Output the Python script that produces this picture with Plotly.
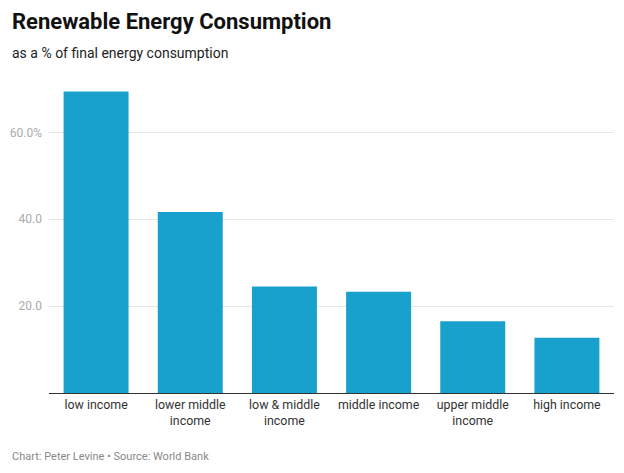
import plotly.graph_objects as go

categories = ["low income", "lower middle<br>income", "low & middle<br>income",
              "middle income", "upper middle<br>income", "high income"]
values = [69.4, 41.7, 24.5, 23.3, 16.5, 12.7]
tick_vals = [20, 40, 60]
tick_text = ["20.0", "40.0", "60.0%"]

W, H = 624, 473
L, R, T, B = 49, 10, 89, 80

fig = go.Figure(go.Bar(x=categories, y=values, marker=dict(color="#18a1cd", line=dict(width=0)),
                       hoverinfo="x+y"))

fig.update_layout(
    width=W, height=H,
    margin=dict(l=L, r=R, t=T, b=B),
    paper_bgcolor="white", plot_bgcolor="white",
    bargap=0.31,
    showlegend=False,
    font=dict(family="Roboto", color="#333333"),
)
fig.update_xaxes(showline=True, linecolor="#333333", linewidth=1.2, ticks="",
                 tickfont=dict(size=12.4, color="#333333"), showgrid=False, fixedrange=True)
fig.update_yaxes(range=[0, 70], tickvals=tick_vals, ticktext=tick_text,
                 showgrid=True, gridcolor="#e6e6e6", gridwidth=1, zeroline=False,
                 tickfont=dict(size=12, color="#aaaaaa"), ticks="", ticklabelstandoff=6,
                 fixedrange=True)


def px_x(x):
    return (x - L) / (W - L - R)


def px_y(y):
    return (H - y - B) / (H - T - B)


fig.add_annotation(text="<b>Renewable Energy Consumption</b>", x=px_x(10), y=px_y(21),
                   xref="paper", yref="paper", xanchor="left", yanchor="middle",
                   showarrow=False, font=dict(size=22, color="#111111", family="Roboto"))
fig.add_annotation(text="as a % of final energy consumption", x=px_x(10), y=px_y(53),
                   xref="paper", yref="paper", xanchor="left", yanchor="middle",
                   showarrow=False, font=dict(size=14, color="#222222", family="Roboto"))
fig.add_annotation(text="Chart: Peter Levine • Source: World Bank", x=px_x(10), y=px_y(456),
                   xref="paper", yref="paper", xanchor="left", yanchor="middle",
                   showarrow=False, font=dict(size=11, color="#888888", family="Roboto"))

fig.write_html("out.html", config={"displayModeBar": False},
               post_script="document.body.style.margin='0';document.body.style.padding='0';")
